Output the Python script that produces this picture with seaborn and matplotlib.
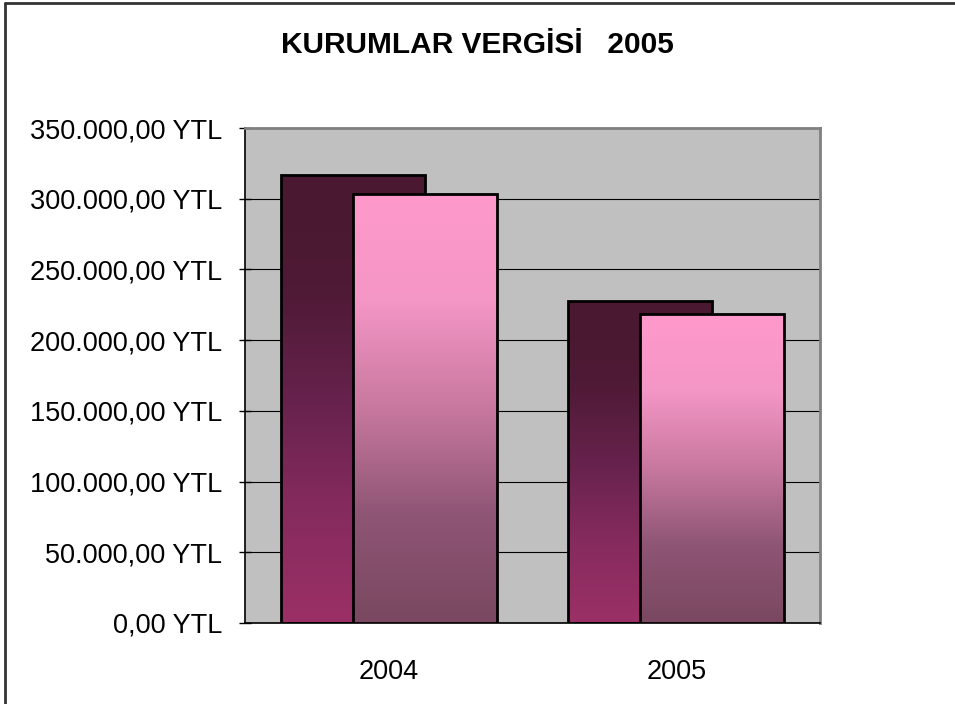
import numpy as np
import pandas as pd
import matplotlib
matplotlib.use("Agg")
import matplotlib.pyplot as plt
import seaborn as sns
from matplotlib.colors import LinearSegmentedColormap
from matplotlib.ticker import FuncFormatter, FixedLocator

# data
years = ["2004", "2005"]
series_a = [317000, 228000]
series_b = [303500, 218500]

df = pd.DataFrame({
    "year": years * 2,
    "value": series_a + series_b,
    "series": ["A"] * 2 + ["B"] * 2,
})

sns.set_style("white")
plt.rcParams["font.family"] = ["Liberation Sans", "DejaVu Sans"]
plt.rcParams["text.color"] = "black"
plt.rcParams["xtick.color"] = "black"
plt.rcParams["ytick.color"] = "black"

fig = plt.figure(figsize=(9.55, 7.04), dpi=100)
ax = fig.add_axes([245 / 955, 1 - 623 / 704, 575 / 955, 495 / 704])
ax.set_facecolor("#C0C0C0")

# gradients (top -> bottom)
grad_a = LinearSegmentedColormap.from_list("ga", ["#4A1830", "#4E1A35", "#66224C", "#862B5E", "#9B3066"])
grad_b = LinearSegmentedColormap.from_list("gb", ["#FF99CC", "#F496C6", "#C8789E", "#8E5575", "#7A4860"])

bar_w = 0.5
shift = 0.125
layers = [("A", grad_a, -shift, 2), ("B", grad_b, shift, 4)]
for name, cmap, dx, z in layers:
    sub = df[df["series"] == name]
    n_before = len(ax.patches)
    sns.barplot(data=sub, x="year", y="value", order=years, width=bar_w,
                color="white", edgecolor="black", linewidth=2, ax=ax)
    for p in ax.patches[n_before:]:
        p.set_x(p.get_x() + dx)
        p.set_facecolor("none")
        p.set_zorder(z + 0.5)
        x0, y0 = p.get_x(), p.get_y()
        w, h = p.get_width(), p.get_height()
        g = np.linspace(0, 1, 256).reshape(-1, 1)
        im = ax.imshow(g, cmap=cmap, aspect="auto", origin="upper",
                       extent=[x0, x0 + w, y0, y0 + h], zorder=z,
                       interpolation="bilinear")
        im.set_clip_path(p)

ax.set_xlim(-0.5, 1.5)
ax.set_ylim(0, 350000)

ax.yaxis.set_major_locator(FixedLocator(np.arange(0, 350001, 50000)))
ax.yaxis.set_major_formatter(FuncFormatter(
    lambda v, _: f"{int(v):,}".replace(",", ".") + ",00 YTL"))
ax.grid(axis="y", color="black", linewidth=0.8, zorder=1)
ax.set_axisbelow(True)

ax.set_xticks([0, 1])
ax.set_xticklabels(years)
ax.set_xticks([-0.5, 0.5, 1.5], minor=True)
ax.tick_params(axis="x", which="major", length=0, pad=26, labelsize=19.5)
ax.tick_params(axis="x", which="minor", length=7, width=1, direction="out", color="black")
ax.tick_params(axis="y", which="major", length=9, width=1, direction="inout",
               color="black", pad=12, labelsize=19.5, left=True)
ax.set_xlabel("")
ax.set_ylabel("")

for side in ["left", "bottom"]:
    ax.spines[side].set_color("black")
    ax.spines[side].set_linewidth(1.2)
for side in ["top", "right"]:
    ax.spines[side].set_color("#808080")
    ax.spines[side].set_linewidth(2)
    ax.spines[side].set_visible(True)

fig.text(0.5, 1 - 45 / 704, "KURUMLAR VERGİSİ   2005", ha="center", va="center",
         fontsize=21.5, fontweight="bold", color="black")

# outer chart frame (left and top only, as in the reference)
fig.add_artist(plt.Line2D([5 / 955, 5 / 955], [0, 1 - 3 / 704], color="#333333", lw=2,
                          transform=fig.transFigure))
fig.add_artist(plt.Line2D([5 / 955, 1], [1 - 3 / 704, 1 - 3 / 704], color="#333333", lw=2,
                          transform=fig.transFigure))

fig.savefig("out.png", dpi=100)
